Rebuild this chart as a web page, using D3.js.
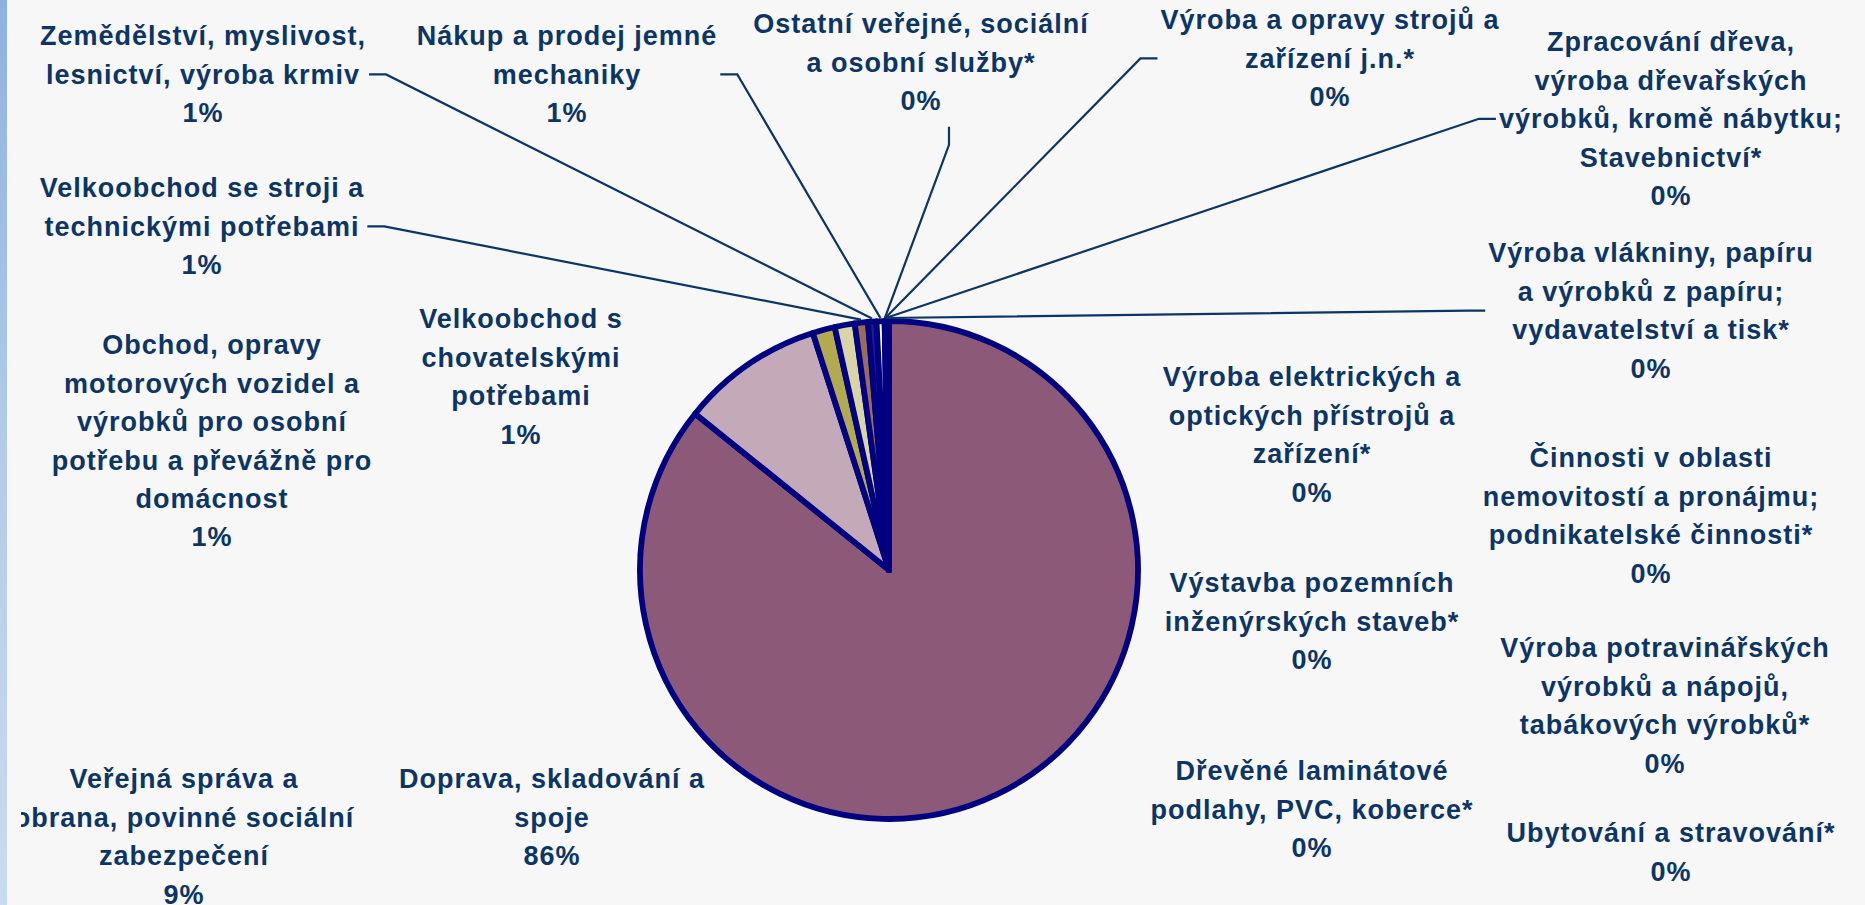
<!DOCTYPE html>
<html>
<head>
<meta charset="utf-8">
<script src="https://cdn.jsdelivr.net/npm/d3@7"></script>
<style>
  body { margin: 0; background: #f7f7f7; overflow: hidden; }
  text { font-family: "Liberation Sans", Arial, sans-serif; font-weight: bold; letter-spacing: 1px; }
</style>
</head>
<body>
<div id="chart"></div>
<script>
// category names, split into the lines they are shown on
var categories = [
    ["Doprava, skladování a", "spoje"],
    ["Veřejná správa a", "obrana, povinné sociální", "zabezpečení"],
    ["Obchod, opravy", "motorových vozidel a", "výrobků pro osobní", "potřebu a převážně pro", "domácnost"],
    ["Velkoobchod s", "chovatelskými", "potřebami"],
    ["Velkoobchod se stroji a", "technickými potřebami"],
    ["Zemědělství, myslivost,", "lesnictví, výroba krmiv"],
    ["Nákup a prodej jemné", "mechaniky"],
    ["Ostatní veřejné, sociální", "a osobní služby*"],
    ["Výroba a opravy strojů a", "zařízení j.n.*"],
    ["Zpracování dřeva,", "výroba dřevařských", "výrobků, kromě nábytku;", "Stavebnictví*"],
    ["Výroba vlákniny, papíru", "a výrobků z papíru;", "vydavatelství a tisk*"],
    ["Výroba elektrických a", "optických přístrojů a", "zařízení*"],
    ["Činnosti v oblasti", "nemovitostí a pronájmu;", "podnikatelské činnosti*"],
    ["Výstavba pozemních", "inženýrských staveb*"],
    ["Výroba potravinářských", "výrobků a nápojů,", "tabákových výrobků*"],
    ["Dřevěné laminátové", "podlahy, PVC, koberce*"],
    ["Ubytování a stravování*"]
];

// share of each category (%)
var values = [85.8, 9.25, 1.45, 1.3, 0.85, 0.55, 0.52,
              0.03, 0.03, 0.03, 0.02, 0.03, 0.03, 0.03, 0.02, 0.03, 0.03];

var sliceColors = ["#8c5a78", "#c4a9b9", "#b3a94e", "#d9d5a6", "#9b6c56", "#1c1c8a", "#ffffff",
                   "#000080", "#000080", "#000080", "#000080", "#000080", "#000080",
                   "#000080", "#000080", "#000080", "#000080"];

// where each data label sits (centre x, first line y) and which side its leader line leaves from
var labelLayout = [
    {x: 552, y: 779},
    {x: 184, y: 779},
    {x: 212, y: 345},
    {x: 521, y: 319},
    {x: 202, y: 188, leader: "right"},
    {x: 203, y: 36, leader: "right"},
    {x: 567, y: 36, leader: "right"},
    {x: 921, y: 24, leader: "bottom", dx: 28},
    {x: 1330, y: 20, leader: "left"},
    {x: 1671, y: 42, leader: "left"},
    {x: 1651, y: 253, leader: "left"},
    {x: 1312, y: 377},
    {x: 1651, y: 458},
    {x: 1312, y: 583},
    {x: 1665, y: 648},
    {x: 1312, y: 771},
    {x: 1671, y: 833}
];

var width = 1865,
    height = 905,
    center = {x: 889, y: 570},
    radius = 249,
    lineHeight = 38.4,
    fontSize = 27,
    textColor = "#0c3565";

var data = categories.map(function (c, i) {
    return {lines: c, value: values[i], color: sliceColors[i], layout: labelLayout[i]};
});
var total = d3.sum(values);

var svg = d3.select("#chart")
    .append("svg")
        .attr("width", width)
        .attr("height", height);

var defs = svg.append("defs");
var grad = defs.append("linearGradient")
    .attr("id", "strip")
    .attr("x1", 0).attr("y1", 0).attr("x2", 0).attr("y2", 1);
grad.append("stop").attr("offset", "0%").attr("stop-color", "#8db2df");
grad.append("stop").attr("offset", "50%").attr("stop-color", "#b3cbe8");
grad.append("stop").attr("offset", "100%").attr("stop-color", "#c9dcef");

// the plot area starts a little right of the slide edge and cuts what overflows
defs.append("clipPath")
    .attr("id", "plot-clip")
  .append("rect")
    .attr("x", 21).attr("y", 0)
    .attr("width", width - 21).attr("height", height);

svg.append("rect")
    .attr("width", width)
    .attr("height", height)
    .attr("fill", "#f7f7f7");

svg.append("rect")
    .attr("width", 7)
    .attr("height", height)
    .attr("fill", "url(#strip)");

var g = svg.append("g")
    .attr("clip-path", "url(#plot-clip)");

// Pie
var pie = d3.pie()
    .sort(null)
    .value(function (d) { return d.value; });

var arcs = pie(data);

var arc = d3.arc()
    .innerRadius(0)
    .outerRadius(radius);

var edgeArc = d3.arc()
    .innerRadius(radius + 3)
    .outerRadius(radius + 3);

var pieG = g.append("g")
    .attr("transform", "translate(" + center.x + "," + center.y + ")");

pieG.selectAll("path")
    .data(arcs)
    .enter()
    .append("path")
        .attr("d", arc)
        .attr("fill", function (d) { return d.data.color; })
        .attr("stroke", "#000080")
        .attr("stroke-width", 5.8)
        .attr("stroke-linejoin", "round");

// Labels
var labels = g.append("g");

arcs.forEach(function (d) {
    var lay = d.data.layout;
    var lines = d.data.lines.concat([Math.round(d.data.value / total * 100) + "%"]);

    var t = labels.append("text")
        .attr("text-anchor", "middle")
        .attr("font-size", fontSize)
        .attr("fill", textColor);

    lines.forEach(function (line, i) {
        t.append("tspan")
            .attr("x", lay.x)
            .attr("y", lay.y + i * lineHeight)
            .attr("dy", "0.35em")
            .text(line);
    });

    if (!lay.leader) return;

    var box = t.node().getBBox();
    var midY = lay.y + (lines.length - 1) * lineHeight / 2;
    var edge = edgeArc.centroid(d);
    var end = [center.x + edge[0], center.y + edge[1]];
    var pts;

    if (lay.leader === "right") {
        pts = [[box.x + box.width + 3, midY], [box.x + box.width + 20, midY], end];
    } else if (lay.leader === "left") {
        pts = [[box.x - 3, midY], [box.x - 20, midY], end];
    } else {
        var bx = lay.x + (lay.dx || 0);
        var by = lay.y + (lines.length - 1) * lineHeight + 26;
        pts = [[bx, by], [bx, by + 18], end];
    }

    labels.append("path")
        .attr("d", d3.line()(pts))
        .attr("fill", "none")
        .attr("stroke", "#0c3565")
        .attr("stroke-width", 2.2);
});
</script>
</body>
</html>
